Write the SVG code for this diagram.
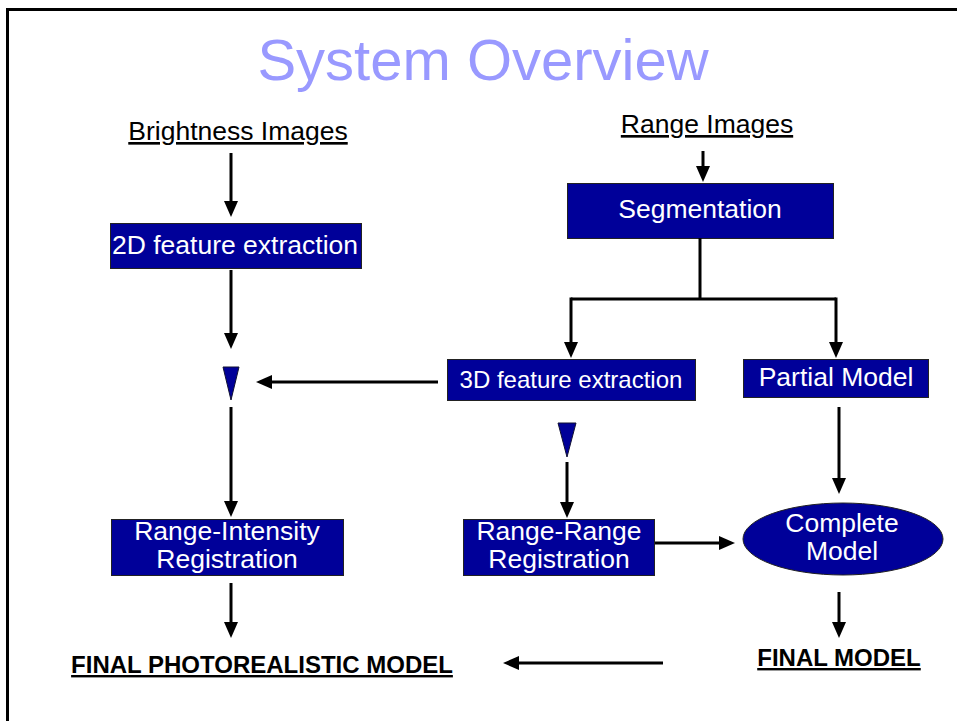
<svg xmlns="http://www.w3.org/2000/svg" width="957" height="721" viewBox="0 0 957 721">
  <style>
    .box { fill: #000099; stroke: #222222; stroke-width: 1; }
    .lbl { font-family: "Liberation Sans", Arial, sans-serif; font-size: 26.5px; fill: #ffffff; text-anchor: middle; }
    .head { font-family: "Liberation Sans", Arial, sans-serif; font-size: 26.5px; fill: #000000; text-anchor: middle; text-decoration: underline; }
    .final { font-family: "Liberation Sans", Arial, sans-serif; font-size: 24px; font-weight: bold; fill: #000000; text-anchor: middle; text-decoration: underline; }
    .conn { stroke: #000000; stroke-width: 3; fill: none; }
    .tri { fill: #000099; stroke: #111133; stroke-width: 1; }
  </style>
  <defs>
    <marker id="arrow" markerUnits="userSpaceOnUse" markerWidth="16" markerHeight="14" viewBox="0 0 16 14" refX="6" refY="7" orient="auto">
      <path d="M0,0 L16,7 L0,14 z" fill="#000000"/>
    </marker>
  </defs>

  <rect width="957" height="721" fill="#ffffff"/>
  <!-- slide frame -->
  <rect x="7.5" y="9.5" width="1000" height="1000" fill="none" stroke="#000000" stroke-width="3"/>

  <text x="483" y="80" font-family="'Liberation Sans', Arial, sans-serif" font-size="58" fill="#9999ff" text-anchor="middle">System Overview</text>

  <g id="brightness-images">
    <text class="head" x="238" y="140">Brightness Images</text>
  </g>
  <g id="range-images">
    <text class="head" x="707" y="133">Range Images</text>
  </g>

  <g id="feature-2d">
    <rect class="box" x="110.5" y="223.5" width="251" height="45"/>
    <text class="lbl" x="235" y="254">2D feature extraction</text>
  </g>

  <g id="segmentation">
    <rect class="box" x="567.5" y="183.5" width="266" height="55"/>
    <text class="lbl" x="700" y="218">Segmentation</text>
  </g>

  <g id="feature-3d">
    <rect class="box" x="447.5" y="359.5" width="248" height="41"/>
    <text class="lbl" x="571" y="388" style="font-size:24px">3D feature extraction</text>
  </g>

  <g id="partial-model">
    <rect class="box" x="743.5" y="359.5" width="185" height="38"/>
    <text class="lbl" x="836" y="386">Partial Model</text>
  </g>

  <g id="merge-left">
    <polygon class="tri" points="223,367 239,367 231,400"/>
  </g>
  <g id="merge-right">
    <polygon class="tri" points="558,423 576,423 567,457"/>
  </g>

  <g id="range-intensity">
    <rect class="box" x="111.5" y="519.5" width="232" height="56"/>
    <text class="lbl" x="227" y="540">Range-Intensity</text>
    <text class="lbl" x="227" y="568">Registration</text>
  </g>

  <g id="range-range">
    <rect class="box" x="463.5" y="519.5" width="191" height="56"/>
    <text class="lbl" x="559" y="540">Range-Range</text>
    <text class="lbl" x="559" y="568">Registration</text>
  </g>

  <g id="complete-model">
    <ellipse class="box" cx="843" cy="539" rx="100" ry="36"/>
    <text class="lbl" x="842" y="532">Complete</text>
    <text class="lbl" x="842" y="560">Model</text>
  </g>

  <g id="final-photorealistic">
    <text class="final" x="262" y="673">FINAL PHOTOREALISTIC MODEL</text>
  </g>
  <g id="final-model">
    <text class="final" x="839" y="666">FINAL MODEL</text>
  </g>

  <g id="connectors">
    <line class="conn" x1="231" y1="153" x2="231" y2="207" marker-end="url(#arrow)"/>
    <line class="conn" x1="231" y1="270" x2="231" y2="339" marker-end="url(#arrow)"/>
    <line class="conn" x1="231" y1="407" x2="231" y2="507" marker-end="url(#arrow)"/>
    <line class="conn" x1="231" y1="583" x2="231" y2="628" marker-end="url(#arrow)"/>

    <line class="conn" x1="703" y1="151" x2="703" y2="172" marker-end="url(#arrow)"/>
    <line class="conn" x1="700" y1="238" x2="700" y2="299"/>
    <polyline class="conn" points="571,299 836,299"/>
    <line class="conn" x1="571" y1="297.5" x2="571" y2="348" marker-end="url(#arrow)"/>
    <line class="conn" x1="836" y1="297.5" x2="836" y2="348" marker-end="url(#arrow)"/>

    <line class="conn" x1="438" y1="382" x2="266" y2="382" marker-end="url(#arrow)"/>
    <line class="conn" x1="567" y1="462" x2="567" y2="508" marker-end="url(#arrow)"/>
    <line class="conn" x1="655" y1="543" x2="725" y2="543" marker-end="url(#arrow)"/>
    <line class="conn" x1="839" y1="407" x2="839" y2="484" marker-end="url(#arrow)"/>
    <line class="conn" x1="839" y1="592" x2="839" y2="628" marker-end="url(#arrow)"/>
    <line class="conn" x1="663" y1="663" x2="513" y2="663" marker-end="url(#arrow)"/>
  </g>
</svg>
